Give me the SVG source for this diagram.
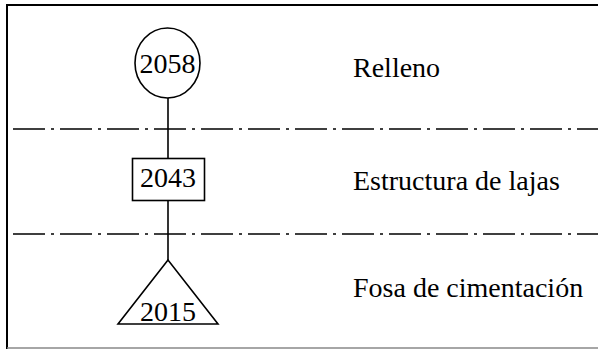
<svg xmlns="http://www.w3.org/2000/svg" width="598" height="350" viewBox="0 0 598 350">
<style>
.frame{stroke:#000;stroke-width:2;fill:none}
.dd{stroke:#000;stroke-width:1.6;fill:none;stroke-dasharray:32 6 3 6;stroke-dashoffset:42}
.shape{stroke:#000;stroke-width:1.6;fill:#fff}
.conn{stroke:#000;stroke-width:1.6;fill:none}
.t{font-family:'Liberation Serif','DejaVu Serif',serif;font-size:28px;fill:#000}
.num{text-anchor:middle}
</style>
<rect width="598" height="350" fill="#fff"/>
<g id="frame">
<line class="frame" x1="7" y1="5" x2="598" y2="5"/>
<line class="frame" x1="7" y1="4" x2="7" y2="349"/>
<line x1="7" y1="348" x2="598" y2="348" stroke="#888" stroke-width="1.5"/>
<line class="dd" x1="8" y1="129" x2="598" y2="129"/>
<line class="dd" x1="8" y1="234" x2="598" y2="234"/>
</g>
<g id="connectors">
<line class="conn" x1="168" y1="98" x2="168" y2="158"/>
<line class="conn" x1="168" y1="201" x2="168" y2="260"/>
</g>
<g id="n2058">
<ellipse class="shape" cx="167.5" cy="63" rx="32.5" ry="35"/>
<text class="t num" x="167.5" y="73" font-family="Liberation Serif, serif">2058</text>
</g>
<g id="n2043">
<rect class="shape" x="132.5" y="158.5" width="72" height="42"/>
<text class="t num" x="168" y="187" font-family="Liberation Serif, serif">2043</text>
</g>
<g id="n2015">
<polygon class="shape" points="168,260 118,324 218,324"/>
<text class="t num" x="168" y="321" font-family="Liberation Serif, serif">2015</text>
</g>
<g id="labels">
<text class="t" x="353" y="77" font-family="Liberation Serif, serif">Relleno</text>
<text class="t" x="353" y="190" font-family="Liberation Serif, serif">Estructura de lajas</text>
<text class="t" x="353" y="297" font-family="Liberation Serif, serif">Fosa de cimentación</text>
</g>
</svg>
